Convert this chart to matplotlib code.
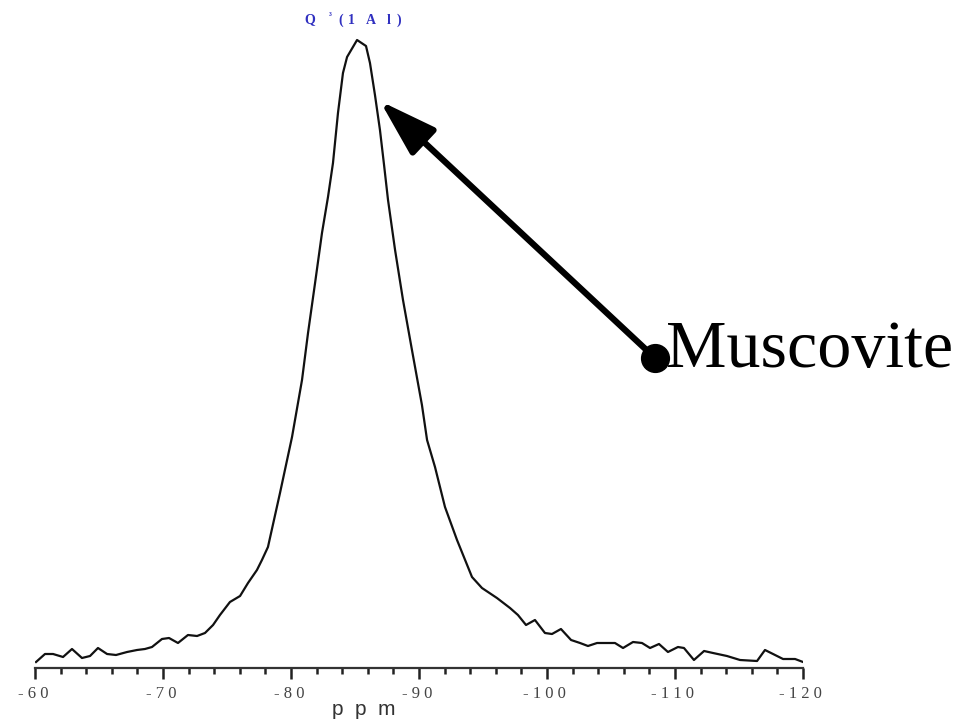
import matplotlib.pyplot as plt
import numpy as np

# spectrum (ppm, intensity in arbitrary units)
ppm = [-60.08, -60.78, -61.41, -62.19, -62.89, -63.67, -64.30, -64.92, -65.63, -66.33,
       -67.19, -67.97, -68.59, -69.14, -69.92, -70.47, -71.17, -71.95, -72.66, -73.28,
       -73.91, -74.45, -75.23, -76.02, -76.64, -77.34, -77.73, -78.20, -79.14, -80.08,
       -80.86, -81.33, -81.88, -82.42, -82.89, -83.28, -83.67, -84.06, -84.38, -85.16,
       -85.86, -86.17, -86.56, -86.95, -87.27, -87.58, -88.13, -88.75, -89.45, -90.23,
       -90.63, -91.25, -92.03, -92.97, -94.14, -94.92, -96.09, -97.11, -97.73, -98.36,
       -99.06, -99.84, -100.39, -101.09, -101.88, -102.58, -103.20, -103.91, -105.31, -105.94,
       -106.72, -107.42, -108.05, -108.75, -109.45, -110.23, -110.70, -111.48, -112.27, -112.97,
       -114.06, -115.08, -116.41, -117.03, -117.66, -118.44, -119.38, -120.00]
intensity = [6, 14, 14, 11, 19, 10, 12, 20, 14, 13,
             16, 18, 19, 21, 29, 30, 25, 33, 32, 35,
             43, 53, 66, 72, 85, 98, 108, 121, 175, 231,
             288, 335, 385, 435, 471, 505, 555, 595, 611, 628,
             622, 605, 573, 538, 503, 468, 418, 368, 318, 263,
             228, 201, 161, 128, 91, 80, 70, 60, 53, 43,
             48, 35, 34, 39, 28, 25, 22, 25, 25, 20,
             26, 25, 20, 24, 16, 21, 20, 8, 17, 15,
             12, 8, 7, 18, 14, 9, 9, 6]

major_ticks = [-60, -70, -80, -90, -100, -110, -120]
tick_labels = ['- 6 0 ', '- 7 0 ', '- 8 0 ', '- 9 0 ', '- 1 0 0 ', '- 1 1 0 ', '- 1 2 0 ']

# peak assignment label, drawn letter by letter (it is widely letter-spaced)
peak_chars = ['Q', '³', '(', '1', 'A', 'l', ')']
peak_char_x = [310, 330, 341, 351, 371, 389, 399]   # pixel centres

arrow_tip = (-86.95, 567)
arrow_start = (-108.44, 310)

fig = plt.figure(figsize=(9.56, 7.2), dpi=100)
ax = fig.add_axes([35/956, 52/720, 768/956, 638/720])

ax.plot(ppm, intensity, color='#111111', lw=1.6)
ax.set_xlim(-60, -120)
ax.set_ylim(0, 638)

for s in ['left', 'top', 'right']:
    ax.spines[s].set_visible(False)
ax.spines['bottom'].set_color('#333333')
ax.spines['bottom'].set_linewidth(1.6)
ax.set_yticks([])

ax.set_xticks(major_ticks)
ax.set_xticklabels(tick_labels, fontfamily='Liberation Serif', fontsize=12, color='#444444')
ax.set_xticks(np.arange(-60, -121, -2), minor=True)
ax.tick_params(axis='x', which='major', direction='out', length=8, width=1.8, color='#222222', pad=5)
ax.tick_params(axis='x', which='minor', direction='out', length=4.5, width=1.8, color='#222222')

ax.set_xlabel('p  p  m', fontfamily='Liberation Sans', fontsize=15, color='#333333')
ax.xaxis.set_label_coords((364 - 35) / 768, -32 / 638)

for ch, px in zip(peak_chars, peak_char_x):
    fy = 1 - (17 if ch == '³' else 20) / 720
    fig.text(px / 956, fy, ch, ha='center', va='center',
             fontfamily='Liberation Serif', fontweight='bold',
             fontsize=7 if ch == '³' else 10, color='#3030c0')

ax.annotate('', xy=arrow_tip, xytext=arrow_start,
            arrowprops=dict(arrowstyle='-|>,head_length=1.75,head_width=0.55',
                            mutation_scale=20, lw=4.5, color='black',
                            shrinkA=0, shrinkB=0))
ax.plot([arrow_start[0]], [arrow_start[1]], 'o', color='black', ms=20, clip_on=False)
ax.text(-109.3, 301, 'Muscovite', ha='left', va='baseline',
        fontfamily='Liberation Serif', fontsize=49, color='black')

fig.savefig('out.png', dpi=100)
